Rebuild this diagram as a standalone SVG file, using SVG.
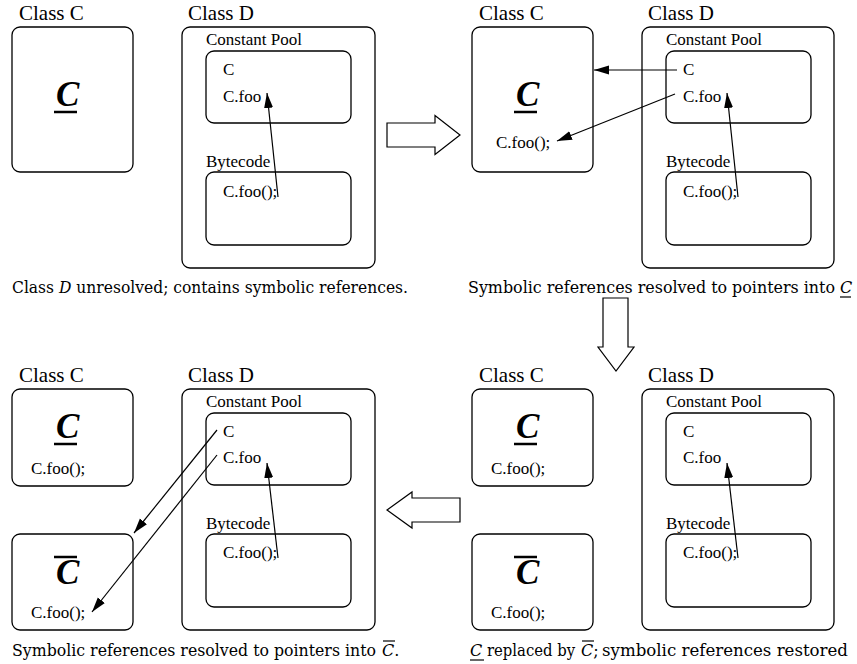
<svg xmlns="http://www.w3.org/2000/svg" width="857" height="664" viewBox="0 0 857 664">
<style>
.box{fill:none;stroke:#000;stroke-width:1.3}
.t{font-family:"Liberation Serif","Times New Roman",serif;fill:#000}
.lb{font-size:21px}
.sm{font-size:17px}
.big{font-size:35px;font-style:italic;font-weight:bold}
.cap{font-family:"DejaVu Serif",serif;font-size:16px;fill:#000}
.it{font-style:italic}
.bar{stroke:#000;stroke-width:2.5}
.thin{stroke:#000;stroke-width:1.2}
.con{fill:none;stroke:#000;stroke-width:1.2;marker-end:url(#ah)}
.hollow{fill:#fff;stroke:#000;stroke-width:1.2}
</style>
<defs>
<marker id="ah" markerUnits="userSpaceOnUse" markerWidth="16" markerHeight="10" refX="15" refY="4.5" orient="auto">
<path d="M0,0 L15,4.5 L0,9 Z" fill="#000"/>
</marker>
</defs>
<rect width="857" height="664" fill="#fff"/>

<!-- ===== Top-left panel ===== -->
<g id="tl-classC">
<text class="t lb" x="19" y="20">Class C</text>
<rect class="box" x="12" y="27" width="121" height="145" rx="8"/>
<text class="t big" x="56" y="106">C</text>
<line class="bar" x1="54" y1="112" x2="77" y2="112"/>
</g>
<g id="tl-classD">
<text class="t lb" x="188" y="20">Class D</text>
<rect class="box" x="182" y="27" width="193" height="241" rx="8"/>
<text class="t sm" x="206" y="45">Constant Pool</text>
<rect class="box" x="206" y="51" width="145" height="72" rx="8"/>
<text class="t sm" x="223" y="75">C</text>
<text class="t sm" x="223" y="102">C.foo</text>
<text class="t sm" x="206" y="167">Bytecode</text>
<rect class="box" x="206" y="172" width="145" height="73" rx="8"/>
<text class="t sm" x="223" y="197">C.foo();</text>
</g>
<g id="tl-caption">
<text class="cap" x="12" y="293" textLength="396" lengthAdjust="spacingAndGlyphs">Class <tspan class="it">D</tspan> unresolved; contains symbolic references.</text>
</g>

<!-- ===== Top-right panel ===== -->
<g id="tr-classC">
<text class="t lb" x="479" y="20">Class C</text>
<rect class="box" x="472" y="27" width="121" height="145" rx="8"/>
<text class="t big" x="516" y="106">C</text>
<line class="bar" x1="514" y1="112" x2="537" y2="112"/>
<text class="t sm" x="496" y="148">C.foo();</text>
</g>
<g id="tr-classD">
<text class="t lb" x="648" y="20">Class D</text>
<rect class="box" x="642" y="27" width="192" height="241" rx="8"/>
<text class="t sm" x="666" y="45">Constant Pool</text>
<rect class="box" x="666" y="51" width="145" height="72" rx="8"/>
<text class="t sm" x="683" y="75">C</text>
<text class="t sm" x="683" y="102">C.foo</text>
<text class="t sm" x="666" y="167">Bytecode</text>
<rect class="box" x="666" y="172" width="145" height="73" rx="8"/>
<text class="t sm" x="683" y="197">C.foo();</text>
</g>
<g id="tr-caption">
<text class="cap" x="468" y="293" textLength="367" lengthAdjust="spacingAndGlyphs">Symbolic references resolved to pointers into</text>
<text class="cap it" x="840" y="293">C</text>
<line class="thin" x1="840" y1="297" x2="851" y2="297"/>
</g>

<!-- ===== Bottom-left panel ===== -->
<g id="bl-classC">
<text class="t lb" x="19" y="382">Class C</text>
<rect class="box" x="12" y="389" width="121" height="97" rx="8"/>
<text class="t big" x="56" y="438">C</text>
<line class="bar" x1="54" y1="444" x2="77" y2="444"/>
<text class="t sm" x="31" y="474">C.foo();</text>
</g>
<g id="bl-classCbar">
<rect class="box" x="12" y="534" width="121" height="96" rx="8"/>
<line class="bar" x1="54" y1="557" x2="77" y2="557"/>
<text class="t big" x="56" y="584">C</text>
<text class="t sm" x="31" y="618">C.foo();</text>
</g>
<g id="bl-classD">
<text class="t lb" x="188" y="382">Class D</text>
<rect class="box" x="182" y="389" width="193" height="241" rx="8"/>
<text class="t sm" x="206" y="407">Constant Pool</text>
<rect class="box" x="206" y="413" width="145" height="72" rx="8"/>
<text class="t sm" x="223" y="437">C</text>
<text class="t sm" x="223" y="463">C.foo</text>
<text class="t sm" x="206" y="529">Bytecode</text>
<rect class="box" x="206" y="534" width="145" height="73" rx="8"/>
<text class="t sm" x="223" y="558">C.foo();</text>
</g>
<g id="bl-caption">
<text class="cap" x="12" y="656" textLength="364" lengthAdjust="spacingAndGlyphs">Symbolic references resolved to pointers into</text>
<text class="cap" x="382" y="656"><tspan class="it">C</tspan>.</text>
<line class="thin" x1="383" y1="641" x2="395" y2="641"/>
</g>

<!-- ===== Bottom-right panel ===== -->
<g id="br-classC">
<text class="t lb" x="479" y="382">Class C</text>
<rect class="box" x="472" y="389" width="121" height="97" rx="8"/>
<text class="t big" x="516" y="438">C</text>
<line class="bar" x1="514" y1="444" x2="537" y2="444"/>
<text class="t sm" x="491" y="474">C.foo();</text>
</g>
<g id="br-classCbar">
<rect class="box" x="472" y="534" width="121" height="96" rx="8"/>
<line class="bar" x1="514" y1="557" x2="537" y2="557"/>
<text class="t big" x="516" y="584">C</text>
<text class="t sm" x="491" y="618">C.foo();</text>
</g>
<g id="br-classD">
<text class="t lb" x="648" y="382">Class D</text>
<rect class="box" x="642" y="389" width="192" height="241" rx="8"/>
<text class="t sm" x="666" y="407">Constant Pool</text>
<rect class="box" x="666" y="413" width="145" height="72" rx="8"/>
<text class="t sm" x="683" y="437">C</text>
<text class="t sm" x="683" y="463">C.foo</text>
<text class="t sm" x="666" y="529">Bytecode</text>
<rect class="box" x="666" y="534" width="145" height="73" rx="8"/>
<text class="t sm" x="683" y="558">C.foo();</text>
</g>
<g id="br-caption">
<text class="cap it" x="470" y="656">C</text>
<text class="cap" x="487" y="656" font-size="14" textLength="88" lengthAdjust="spacingAndGlyphs">replaced by</text>
<text class="cap" x="581" y="656"><tspan class="it">C</tspan>;</text>
<text class="cap" x="602" y="656" textLength="246" lengthAdjust="spacingAndGlyphs">symbolic references restored</text>
<line class="thin" x1="470" y1="660" x2="484" y2="660"/>
<line class="thin" x1="582" y1="641" x2="594" y2="641"/>
</g>

<!-- ===== Transition arrows ===== -->
<g id="step-arrows">
<polygon class="hollow" points="387,123 435,123 435,115.5 460,135 435,154.5 435,147 387,147"/>
<polygon class="hollow" points="603,298 628,298 628,347 634,347 616,371 598,347 603,347"/>
<polygon class="hollow" points="460,498 412,498 412,492 387,510 412,528 412,522 460,522"/>
</g>

<!-- ===== Connectors ===== -->
<g id="connectors">
<line class="con" x1="278" y1="197" x2="267" y2="93"/>
<line class="con" x1="738" y1="197" x2="727" y2="93"/>
<line class="con" x1="677" y1="70" x2="594" y2="70"/>
<line class="con" x1="675" y1="94" x2="557" y2="141"/>
<line class="con" x1="278" y1="558" x2="267" y2="463"/>
<line class="con" x1="738" y1="558" x2="727" y2="463"/>
<line class="con" x1="217" y1="430" x2="134" y2="533"/>
<line class="con" x1="217" y1="455" x2="92" y2="612"/>
</g>
</svg>
